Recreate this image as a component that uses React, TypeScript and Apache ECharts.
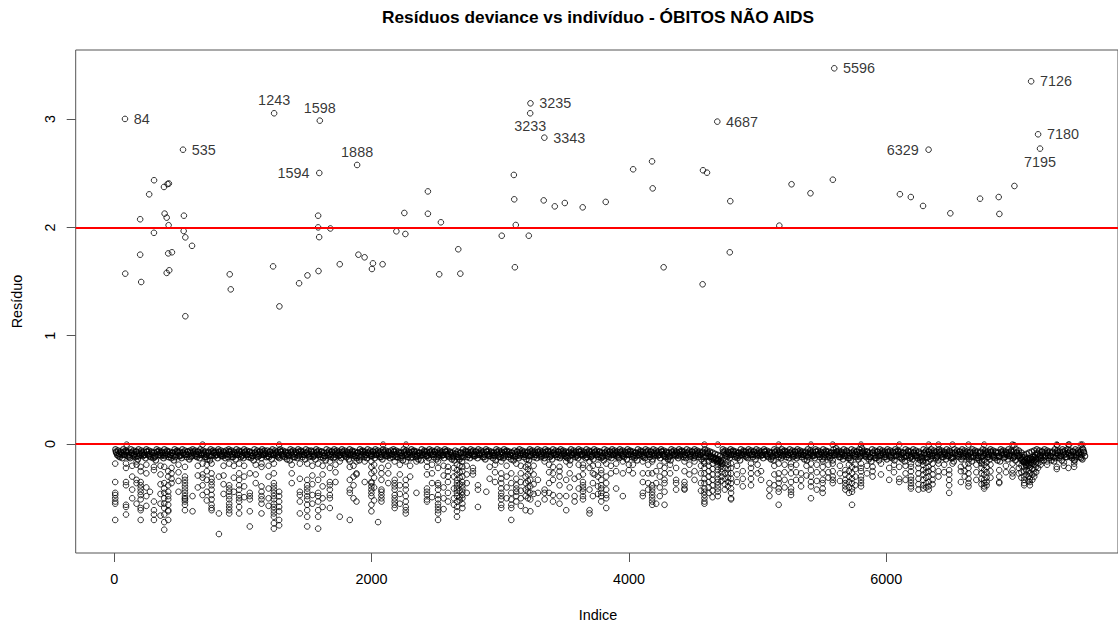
import React, { useEffect, useRef } from "react";
import * as echarts from "echarts";

const chartTitle = "Resíduos deviance vs indivíduo - ÓBITOS NÃO AIDS";
const xName = "Indice";
const yName = "Resíduo";
const xTicks = [0, 2000, 4000, 6000];
const yTicks = [0, 1, 2, 3];
const refLines = [0, 2];

// dense band of small negative residuals, sampled every bandStep indices (four interleaved rows)
const bandStart = 10;
const bandStep = 20;
const bandUpper = [
  -0.05,-0.06,-0.07,-0.05,-0.06,-0.07,-0.05,-0.06,-0.07,-0.05,
  -0.06,-0.07,-0.05,-0.06,-0.07,-0.08,-0.05,-0.06,-0.07,-0.05,
  -0.06,-0.07,-0.08,-0.05,-0.06,-0.07,-0.05,-0.06,-0.07,-0.06,
  -0.05,-0.06,-0.07,-0.05,-0.06,-0.07,-0.08,-0.05,-0.06,-0.07,
  -0.05,-0.06,-0.07,-0.06,-0.05,-0.06,-0.07,-0.05,-0.06,-0.07,
  -0.05,-0.06,-0.07,-0.08,-0.05,-0.06,-0.07,-0.05,-0.06,-0.06,
  -0.07,-0.05,-0.06,-0.07,-0.05,-0.06,-0.07,-0.08,-0.05,-0.06,
  -0.07,-0.05,-0.06,-0.07,-0.05,-0.06,-0.06,-0.07,-0.05,-0.06,
  -0.07,-0.08,-0.05,-0.06,-0.07,-0.05,-0.06,-0.07,-0.05,-0.06,
  -0.07,-0.05,-0.06,-0.07,-0.08,-0.05,-0.06,-0.07,-0.05,-0.06,
  -0.07,-0.05,-0.06,-0.07,-0.05,-0.06,-0.07,-0.06,-0.05,-0.06,
  -0.07,-0.08,-0.05,-0.06,-0.07,-0.05,-0.06,-0.07,-0.08,-0.05,
  -0.06,-0.07,-0.05,-0.06,-0.07,-0.05,-0.06,-0.07,-0.05,-0.06,
  -0.07,-0.08,-0.06,-0.07,-0.08,-0.05,-0.06,-0.07,-0.05,-0.06,
  -0.07,-0.05,-0.06,-0.07,-0.05,-0.06,-0.07,-0.08,-0.05,-0.06,
  -0.07,-0.05,-0.06,-0.07,-0.08,-0.06,-0.07,-0.05,-0.06,-0.07,
  -0.08,-0.05,-0.06,-0.07,-0.05,-0.06,-0.07,-0.05,-0.06,-0.07,
  -0.05,-0.06,-0.07,-0.05,-0.06,-0.07,-0.08,-0.05,-0.06,-0.07,
  -0.05,-0.06,-0.07,-0.05,-0.06,-0.07,-0.05,-0.06,-0.07,-0.08,
  -0.05,-0.06,-0.07,-0.05,-0.06,-0.07,-0.05,-0.06,-0.07,-0.05,
  -0.06,-0.07,-0.08,-0.05,-0.06,-0.07,-0.05,-0.06,-0.07,-0.05,
  -0.06,-0.07,-0.05,-0.06,-0.07,-0.08,-0.05,-0.06,-0.07,-0.05,
  -0.06,-0.07,-0.05,-0.06,-0.07,-0.05,-0.06,-0.07,-0.08,-0.05,
  -0.06,-0.07,-0.08,-0.09,-0.10,-0.11,-0.05,-0.06,-0.07,-0.05,
  -0.06,-0.07,-0.08,-0.05,-0.06,-0.07,-0.05,-0.06,-0.07,-0.05,
  -0.06,-0.07,-0.05,-0.06,-0.07,-0.08,-0.05,-0.06,-0.07,-0.05,
  -0.06,-0.07,-0.05,-0.06,-0.07,-0.05,-0.06,-0.07,-0.08,-0.05,
  -0.06,-0.07,-0.05,-0.06,-0.07,-0.05,-0.06,-0.07,-0.08,-0.05,
  -0.04,-0.06,-0.07,-0.05,-0.06,-0.08,-0.05,-0.06,-0.07,-0.05,
  -0.04,-0.06,-0.07,-0.08,-0.05,-0.06,-0.07,-0.05,-0.06,-0.07,
  -0.05,-0.06,-0.07,-0.05,-0.06,-0.07,-0.08,-0.05,-0.06,-0.07,
  -0.05,-0.06,-0.08,-0.09,-0.05,-0.06,-0.07,-0.05,-0.06,-0.07,
  -0.05,-0.06,-0.07,-0.05,-0.06,-0.08,-0.05,-0.06,-0.07,-0.05,
  -0.06,-0.07,-0.08,-0.05,-0.06,-0.07,-0.08,-0.05,-0.06,-0.07,
  -0.05,-0.06,-0.07,-0.08,-0.05,-0.06,-0.07,-0.05,-0.06,-0.07,
  -0.05,-0.06,-0.08,-0.10,-0.09,-0.08,-0.07,-0.06,-0.05,-0.06,
  -0.07,-0.05,-0.06,-0.07,-0.08,-0.05,-0.06,-0.07,-0.05,-0.06,
  -0.05,-0.06,-0.07,-0.05,-0.06,-0.07,-0.05,
];
const bandMiddle = [
  -0.08,-0.09,-0.10,-0.07,-0.08,-0.10,-0.08,-0.09,-0.11,-0.08,
  -0.09,-0.10,-0.07,-0.09,-0.10,-0.11,-0.07,-0.08,-0.10,-0.08,
  -0.09,-0.10,-0.11,-0.07,-0.08,-0.10,-0.08,-0.09,-0.10,-0.08,
  -0.07,-0.09,-0.10,-0.08,-0.09,-0.10,-0.11,-0.07,-0.08,-0.10,
  -0.08,-0.09,-0.10,-0.09,-0.07,-0.09,-0.10,-0.08,-0.09,-0.10,
  -0.07,-0.09,-0.10,-0.11,-0.08,-0.09,-0.10,-0.07,-0.09,-0.09,
  -0.10,-0.08,-0.09,-0.10,-0.07,-0.09,-0.10,-0.11,-0.08,-0.09,
  -0.10,-0.07,-0.09,-0.10,-0.08,-0.09,-0.09,-0.10,-0.07,-0.09,
  -0.10,-0.11,-0.08,-0.09,-0.10,-0.07,-0.09,-0.10,-0.08,-0.09,
  -0.10,-0.08,-0.09,-0.10,-0.11,-0.07,-0.09,-0.10,-0.08,-0.09,
  -0.10,-0.07,-0.09,-0.10,-0.08,-0.09,-0.10,-0.09,-0.07,-0.09,
  -0.10,-0.11,-0.08,-0.09,-0.10,-0.07,-0.09,-0.10,-0.11,-0.08,
  -0.09,-0.10,-0.07,-0.09,-0.10,-0.08,-0.09,-0.10,-0.07,-0.09,
  -0.10,-0.11,-0.09,-0.10,-0.12,-0.08,-0.09,-0.10,-0.07,-0.09,
  -0.10,-0.08,-0.09,-0.10,-0.07,-0.09,-0.10,-0.11,-0.08,-0.09,
  -0.10,-0.07,-0.09,-0.10,-0.11,-0.09,-0.10,-0.08,-0.09,-0.10,
  -0.11,-0.07,-0.09,-0.10,-0.08,-0.09,-0.10,-0.07,-0.09,-0.10,
  -0.08,-0.09,-0.10,-0.07,-0.09,-0.10,-0.11,-0.08,-0.09,-0.10,
  -0.07,-0.09,-0.10,-0.08,-0.09,-0.10,-0.07,-0.09,-0.10,-0.11,
  -0.08,-0.09,-0.10,-0.07,-0.09,-0.10,-0.08,-0.09,-0.10,-0.07,
  -0.09,-0.10,-0.11,-0.08,-0.09,-0.10,-0.07,-0.09,-0.10,-0.08,
  -0.09,-0.10,-0.07,-0.09,-0.10,-0.11,-0.08,-0.09,-0.10,-0.07,
  -0.09,-0.10,-0.08,-0.09,-0.10,-0.07,-0.09,-0.10,-0.12,-0.08,
  -0.09,-0.11,-0.12,-0.13,-0.14,-0.15,-0.08,-0.09,-0.10,-0.07,
  -0.09,-0.10,-0.11,-0.08,-0.09,-0.10,-0.07,-0.09,-0.10,-0.08,
  -0.09,-0.10,-0.07,-0.09,-0.10,-0.11,-0.08,-0.09,-0.10,-0.07,
  -0.09,-0.10,-0.08,-0.09,-0.10,-0.07,-0.09,-0.10,-0.11,-0.08,
  -0.09,-0.10,-0.07,-0.09,-0.10,-0.08,-0.09,-0.10,-0.11,-0.08,
  -0.07,-0.09,-0.10,-0.08,-0.10,-0.11,-0.08,-0.09,-0.10,-0.08,
  -0.07,-0.09,-0.10,-0.12,-0.08,-0.10,-0.11,-0.08,-0.09,-0.10,
  -0.08,-0.10,-0.11,-0.07,-0.09,-0.10,-0.12,-0.08,-0.10,-0.11,
  -0.08,-0.10,-0.12,-0.13,-0.08,-0.09,-0.10,-0.08,-0.10,-0.11,
  -0.08,-0.09,-0.10,-0.08,-0.10,-0.12,-0.08,-0.09,-0.10,-0.08,
  -0.09,-0.10,-0.12,-0.08,-0.10,-0.11,-0.12,-0.08,-0.09,-0.10,
  -0.08,-0.10,-0.11,-0.12,-0.08,-0.09,-0.10,-0.08,-0.10,-0.11,
  -0.08,-0.10,-0.12,-0.15,-0.14,-0.13,-0.12,-0.10,-0.09,-0.10,
  -0.11,-0.08,-0.10,-0.11,-0.12,-0.08,-0.10,-0.11,-0.08,-0.09,
  -0.08,-0.10,-0.11,-0.08,-0.09,-0.10,-0.08,
];
const bandLower = [
  -0.10,-0.12,-0.13,-0.10,-0.11,-0.13,-0.11,-0.12,-0.14,-0.10,
  -0.11,-0.13,-0.10,-0.12,-0.13,-0.15,-0.10,-0.11,-0.13,-0.10,
  -0.12,-0.13,-0.15,-0.10,-0.11,-0.13,-0.10,-0.12,-0.14,-0.11,
  -0.10,-0.12,-0.13,-0.10,-0.12,-0.14,-0.15,-0.10,-0.11,-0.13,
  -0.10,-0.11,-0.13,-0.12,-0.10,-0.12,-0.14,-0.10,-0.12,-0.13,
  -0.10,-0.12,-0.13,-0.15,-0.10,-0.11,-0.13,-0.10,-0.12,-0.12,
  -0.14,-0.10,-0.11,-0.13,-0.10,-0.12,-0.14,-0.15,-0.10,-0.12,
  -0.13,-0.10,-0.12,-0.14,-0.10,-0.11,-0.12,-0.14,-0.10,-0.12,
  -0.13,-0.15,-0.10,-0.12,-0.13,-0.10,-0.11,-0.13,-0.10,-0.12,
  -0.14,-0.10,-0.11,-0.13,-0.15,-0.10,-0.12,-0.13,-0.10,-0.11,
  -0.13,-0.10,-0.12,-0.14,-0.10,-0.11,-0.13,-0.12,-0.10,-0.12,
  -0.13,-0.15,-0.10,-0.12,-0.13,-0.10,-0.12,-0.14,-0.15,-0.10,
  -0.11,-0.13,-0.10,-0.12,-0.14,-0.10,-0.11,-0.13,-0.10,-0.12,
  -0.14,-0.15,-0.12,-0.14,-0.16,-0.10,-0.12,-0.13,-0.10,-0.11,
  -0.13,-0.10,-0.12,-0.14,-0.10,-0.11,-0.13,-0.15,-0.10,-0.12,
  -0.13,-0.10,-0.12,-0.14,-0.15,-0.11,-0.13,-0.10,-0.12,-0.14,
  -0.15,-0.10,-0.12,-0.13,-0.10,-0.11,-0.13,-0.10,-0.12,-0.14,
  -0.10,-0.12,-0.13,-0.10,-0.11,-0.13,-0.15,-0.10,-0.12,-0.13,
  -0.10,-0.11,-0.13,-0.10,-0.12,-0.14,-0.10,-0.12,-0.13,-0.15,
  -0.10,-0.12,-0.13,-0.10,-0.11,-0.13,-0.10,-0.12,-0.14,-0.10,
  -0.12,-0.13,-0.15,-0.10,-0.11,-0.13,-0.10,-0.12,-0.14,-0.10,
  -0.11,-0.13,-0.10,-0.12,-0.14,-0.15,-0.10,-0.11,-0.13,-0.10,
  -0.12,-0.13,-0.10,-0.11,-0.13,-0.10,-0.12,-0.14,-0.16,-0.11,
  -0.12,-0.14,-0.15,-0.16,-0.17,-0.18,-0.10,-0.12,-0.13,-0.10,
  -0.12,-0.13,-0.15,-0.10,-0.11,-0.13,-0.10,-0.12,-0.14,-0.10,
  -0.11,-0.13,-0.10,-0.12,-0.14,-0.15,-0.10,-0.12,-0.13,-0.10,
  -0.12,-0.13,-0.10,-0.11,-0.13,-0.10,-0.12,-0.14,-0.15,-0.10,
  -0.11,-0.13,-0.10,-0.12,-0.14,-0.10,-0.12,-0.13,-0.15,-0.10,
  -0.10,-0.12,-0.14,-0.11,-0.13,-0.15,-0.10,-0.12,-0.14,-0.11,
  -0.10,-0.12,-0.14,-0.16,-0.11,-0.13,-0.15,-0.10,-0.12,-0.14,
  -0.11,-0.13,-0.15,-0.10,-0.12,-0.14,-0.16,-0.11,-0.13,-0.14,
  -0.11,-0.13,-0.15,-0.16,-0.10,-0.12,-0.14,-0.11,-0.13,-0.15,
  -0.10,-0.12,-0.14,-0.11,-0.13,-0.16,-0.10,-0.12,-0.14,-0.11,
  -0.12,-0.14,-0.16,-0.11,-0.13,-0.15,-0.16,-0.10,-0.12,-0.14,
  -0.11,-0.13,-0.15,-0.16,-0.10,-0.12,-0.14,-0.11,-0.13,-0.15,
  -0.11,-0.13,-0.16,-0.19,-0.18,-0.17,-0.16,-0.14,-0.12,-0.13,
  -0.15,-0.11,-0.13,-0.15,-0.16,-0.11,-0.13,-0.15,-0.10,-0.12,
  -0.11,-0.13,-0.15,-0.10,-0.12,-0.14,-0.11,
];
const bandExtra = [
  -0.07,-0.11,-0.08,-0.10,-0.07,-0.12,-0.08,-0.10,-0.07,-0.11,
  -0.08,-0.10,-0.07,-0.11,-0.08,-0.12,-0.07,-0.10,-0.08,-0.11,
  -0.07,-0.10,-0.08,-0.12,-0.07,-0.11,-0.08,-0.10,-0.07,-0.12,
  -0.08,-0.11,-0.07,-0.10,-0.08,-0.12,-0.07,-0.11,-0.08,-0.10,
  -0.07,-0.11,-0.08,-0.10,-0.07,-0.12,-0.08,-0.10,-0.07,-0.11,
  -0.08,-0.10,-0.07,-0.11,-0.08,-0.12,-0.07,-0.10,-0.08,-0.11,
  -0.07,-0.10,-0.08,-0.12,-0.07,-0.11,-0.08,-0.10,-0.07,-0.12,
  -0.08,-0.11,-0.07,-0.10,-0.08,-0.12,-0.07,-0.11,-0.08,-0.10,
  -0.07,-0.11,-0.08,-0.10,-0.07,-0.12,-0.08,-0.10,-0.07,-0.11,
  -0.08,-0.10,-0.07,-0.11,-0.08,-0.12,-0.07,-0.10,-0.08,-0.11,
  -0.07,-0.10,-0.08,-0.12,-0.07,-0.11,-0.08,-0.10,-0.07,-0.12,
  -0.08,-0.11,-0.07,-0.10,-0.08,-0.12,-0.07,-0.11,-0.08,-0.10,
  -0.07,-0.11,-0.08,-0.10,-0.07,-0.12,-0.08,-0.10,-0.07,-0.11,
  -0.08,-0.12,-0.09,-0.12,-0.08,-0.12,-0.07,-0.10,-0.08,-0.11,
  -0.07,-0.10,-0.08,-0.12,-0.07,-0.11,-0.08,-0.10,-0.07,-0.12,
  -0.08,-0.11,-0.07,-0.10,-0.08,-0.12,-0.07,-0.11,-0.08,-0.10,
  -0.07,-0.11,-0.08,-0.10,-0.07,-0.12,-0.08,-0.10,-0.07,-0.11,
  -0.08,-0.10,-0.07,-0.11,-0.08,-0.12,-0.07,-0.10,-0.08,-0.11,
  -0.07,-0.10,-0.08,-0.12,-0.07,-0.11,-0.08,-0.10,-0.07,-0.12,
  -0.08,-0.11,-0.07,-0.10,-0.08,-0.12,-0.07,-0.11,-0.08,-0.10,
  -0.07,-0.11,-0.08,-0.10,-0.07,-0.12,-0.08,-0.10,-0.07,-0.11,
  -0.08,-0.10,-0.07,-0.11,-0.08,-0.12,-0.07,-0.10,-0.08,-0.11,
  -0.07,-0.10,-0.08,-0.12,-0.07,-0.11,-0.08,-0.10,-0.07,-0.12,
  -0.08,-0.12,-0.13,-0.14,-0.15,-0.16,-0.07,-0.11,-0.08,-0.10,
  -0.07,-0.11,-0.08,-0.10,-0.07,-0.12,-0.08,-0.10,-0.07,-0.11,
  -0.08,-0.10,-0.07,-0.11,-0.08,-0.12,-0.07,-0.10,-0.08,-0.11,
  -0.07,-0.10,-0.08,-0.12,-0.07,-0.11,-0.08,-0.10,-0.07,-0.12,
  -0.08,-0.11,-0.07,-0.10,-0.08,-0.12,-0.07,-0.11,-0.08,-0.10,
  -0.07,-0.12,-0.08,-0.11,-0.07,-0.13,-0.08,-0.11,-0.07,-0.12,
  -0.08,-0.11,-0.07,-0.12,-0.08,-0.13,-0.07,-0.11,-0.08,-0.12,
  -0.07,-0.12,-0.08,-0.11,-0.07,-0.13,-0.08,-0.11,-0.07,-0.12,
  -0.08,-0.11,-0.07,-0.12,-0.08,-0.13,-0.07,-0.11,-0.08,-0.12,
  -0.07,-0.12,-0.08,-0.11,-0.07,-0.13,-0.08,-0.11,-0.07,-0.12,
  -0.08,-0.11,-0.07,-0.12,-0.08,-0.13,-0.07,-0.11,-0.08,-0.12,
  -0.07,-0.12,-0.08,-0.11,-0.07,-0.13,-0.08,-0.11,-0.07,-0.12,
  -0.08,-0.11,-0.14,-0.17,-0.16,-0.15,-0.14,-0.12,-0.08,-0.11,
  -0.07,-0.12,-0.08,-0.11,-0.07,-0.13,-0.08,-0.11,-0.07,-0.12,
  -0.08,-0.11,-0.07,-0.12,-0.08,-0.13,-0.07,
];

// columns of more negative residuals: [index, residual, residual, ...]
const lowerColumns = [
  [8, -0.18,-0.35,-0.45,-0.47,-0.50,-0.53,-0.55,-0.70],
  [92, -0.18,-0.22,-0.35,-0.38,-0.56,-0.58,-0.65],
  [97, -0.005],
  [140, -0.20,-0.30,-0.42,-0.50],
  [174, -0.16,-0.19,-0.33,-0.36,-0.55],
  [206, -0.21,-0.25,-0.35,-0.38,-0.41,-0.44,-0.47,-0.51,-0.59,-0.61,-0.70],
  [250, -0.19,-0.27,-0.40,-0.48,-0.57],
  [278, -0.44],
  [309, -0.21,-0.24,-0.53,-0.61,-0.65,-0.70],
  [360, -0.20,-0.28,-0.37,-0.46,-0.55,-0.66],
  [389, -0.21,-0.36,-0.41,-0.45,-0.50,-0.55,-0.59,-0.65,-0.72,-0.79],
  [420, -0.25,-0.30,-0.38,-0.44,-0.48,-0.51,-0.56,-0.61,-0.62,-0.70],
  [446, -0.22,-0.27,-0.32,-0.36],
  [500, -0.19,-0.26,-0.34,-0.44],
  [550, -0.21,-0.30,-0.33,-0.36,-0.39,-0.42,-0.45,-0.48,-0.50,-0.51,-0.53,-0.56,-0.61],
  [609, -0.48,-0.62],
  [650, -0.20,-0.29,-0.40],
  [687, -0.005,-0.18,-0.28,-0.31,-0.38,-0.47],
  [720, -0.19,-0.25,-0.33,-0.44,-0.52],
  [757, -0.18,-0.27,-0.32,-0.35,-0.38,-0.42,-0.47,-0.51,-0.56,-0.59,-0.61],
  [814, -0.30,-0.64,-0.83],
  [850, -0.20,-0.29,-0.37,-0.46],
  [894, -0.18,-0.38,-0.41,-0.44,-0.48,-0.51,-0.55,-0.58,-0.61,-0.64],
  [930, -0.20,-0.31,-0.44],
  [971, -0.18,-0.27,-0.33,-0.38,-0.42,-0.47,-0.50,-0.53,-0.58,-0.64],
  [1010, -0.20,-0.30,-0.39,-0.49],
  [1054, -0.27,-0.45,-0.48,-0.51,-0.62,-0.76],
  [1100, -0.19,-0.28,-0.36],
  [1145, -0.18,-0.21,-0.39,-0.44,-0.48,-0.51,-0.55,-0.64],
  [1200, -0.20,-0.30,-0.41,-0.50,-0.57],
  [1241, -0.18,-0.27,-0.36,-0.39,-0.42,-0.45,-0.48,-0.51,-0.55,-0.58,-0.61,-0.64,-0.67,-0.73,-0.78],
  [1282, -0.005,-0.44,-0.48,-0.53,-0.58,-0.62,-0.70,-0.75],
  [1380, -0.19,-0.27,-0.36],
  [1443, -0.18,-0.32,-0.44,-0.47,-0.53,-0.64],
  [1500, -0.18,-0.33,-0.38,-0.41,-0.44,-0.48,-0.51,-0.56,-0.61,-0.67,-0.76],
  [1540, -0.20,-0.29,-0.37,-0.47,-0.55],
  [1585, -0.18,-0.33,-0.45,-0.48,-0.53,-0.61,-0.67,-0.78],
  [1620, -0.20,-0.28,-0.39,-0.50,-0.58],
  [1676, -0.16,-0.22,-0.35,-0.38,-0.42,-0.47,-0.50,-0.59],
  [1720, -0.19,-0.26,-0.35],
  [1753, -0.16,-0.67],
  [1831, -0.16,-0.21,-0.33,-0.42,-0.45,-0.70],
  [1860, -0.20,-0.30,-0.38,-0.50],
  [1883, -0.16,-0.27,-0.28,-0.53],
  [1947, -0.16,-0.35],
  [1999, -0.16,-0.21,-0.27,-0.35,-0.36,-0.39,-0.42,-0.45,-0.48,-0.56,-0.62],
  [2020, -0.19,-0.25,-0.31,-0.40,-0.52],
  [2051, -0.72],
  [2077, -0.22,-0.27,-0.33,-0.42,-0.44,-0.47,-0.50,-0.53],
  [2090, -0.005],
  [2130, -0.20,-0.27,-0.36],
  [2180, -0.16,-0.33,-0.36,-0.39,-0.42,-0.47,-0.50,-0.53,-0.56,-0.59],
  [2220, -0.19,-0.28,-0.38,-0.46,-0.55],
  [2266, -0.16,-0.33,-0.38,-0.42,-0.48,-0.53,-0.58,-0.61,-0.64],
  [2268, -0.005],
  [2300, -0.20,-0.30],
  [2349, -0.16,-0.45],
  [2431, -0.16,-0.21,-0.28,-0.41,-0.44,-0.47,-0.51,-0.53],
  [2470, -0.19,-0.27,-0.36,-0.49],
  [2517, -0.16,-0.22,-0.36,-0.38,-0.42,-0.47,-0.51,-0.55,-0.58,-0.61,-0.64,-0.70],
  [2560, -0.20,-0.29,-0.40,-0.50,-0.60],
  [2594, -0.21,-0.25,-0.30,-0.35,-0.45,-0.53],
  [2640, -0.22,-0.30,-0.41,-0.50,-0.56],
  [2664, -0.19,-0.24,-0.28,-0.33,-0.36,-0.39,-0.42,-0.45,-0.48,-0.53,-0.58,-0.62,-0.67],
  [2685, -0.20,-0.26,-0.31,-0.37,-0.43,-0.49,-0.52],
  [2706, -0.21,-0.25,-0.30,-0.35,-0.38,-0.41,-0.44,-0.47,-0.50,-0.55,-0.59],
  [2740, -0.20,-0.28,-0.36,-0.45],
  [2788, -0.22,-0.25,-0.28],
  [2827, -0.38,-0.42,-0.58],
  [2892, -0.44],
  [2918, -0.21,-0.32],
  [2960, -0.19,-0.26,-0.35],
  [3008, -0.16,-0.27,-0.32,-0.36,-0.41,-0.45,-0.48,-0.51,-0.56,-0.59],
  [3050, -0.20,-0.30,-0.40,-0.50],
  [3086, -0.27,-0.36,-0.45,-0.51,-0.56,-0.59,-0.70],
  [3125, -0.18,-0.32,-0.38,-0.41,-0.44,-0.48,-0.53],
  [3160, -0.20,-0.27,-0.35,-0.43,-0.50,-0.57],
  [3197, -0.21,-0.30,-0.36,-0.42,-0.48,-0.61],
  [3215, -0.19,-0.23,-0.28,-0.34,-0.40,-0.44,-0.50],
  [3234, -0.25,-0.33,-0.39,-0.45,-0.51,-0.62],
  [3260, -0.20,-0.28,-0.37,-0.46],
  [3293, -0.33,-0.45,-0.55],
  [3345, -0.16,-0.42,-0.45,-0.51],
  [3380, -0.19,-0.26,-0.36,-0.45],
  [3410, -0.21,-0.27,-0.33,-0.47,-0.53],
  [3461, -0.21,-0.25,-0.30,-0.38,-0.48,-0.55],
  [3513, -0.16,-0.33,-0.48,-0.61],
  [3540, -0.19,-0.27,-0.40],
  [3578, -0.32,-0.48,-0.53],
  [3610, -0.19,-0.30,-0.41],
  [3643, -0.19,-0.22,-0.28,-0.35,-0.38,-0.41,-0.44,-0.48,-0.51],
  [3694, -0.16,-0.22,-0.42,-0.61,-0.64],
  [3720, -0.20,-0.27,-0.36,-0.48],
  [3733, -0.28],
  [3760, -0.19,-0.30,-0.39,-0.46],
  [3785, -0.24,-0.27,-0.33,-0.38,-0.41,-0.45,-0.48,-0.53],
  [3824, -0.18,-0.30,-0.36,-0.42,-0.47,-0.50,-0.59],
  [3860, -0.20,-0.27],
  [3901, -0.18,-0.25,-0.41],
  [3953, -0.16,-0.27,-0.48],
  [4000, -0.19,-0.24],
  [4031, -0.19,-0.27],
  [4108, -0.16,-0.27,-0.35,-0.45,-0.48],
  [4150, -0.19,-0.27,-0.36,-0.42],
  [4181, -0.16,-0.27,-0.38,-0.41,-0.44,-0.47,-0.50,-0.53,-0.56],
  [4212, -0.25,-0.36,-0.55],
  [4240, -0.20,-0.30,-0.40,-0.48],
  [4277, -0.16,-0.22,-0.27,-0.33,-0.36,-0.44,-0.56],
  [4320, -0.19,-0.27],
  [4367, -0.22,-0.33,-0.36,-0.42],
  [4432, -0.16,-0.25,-0.35,-0.38,-0.41,-0.42],
  [4470, -0.19,-0.28],
  [4510, -0.16,-0.25,-0.33],
  [4560, -0.20,-0.27,-0.36,-0.43],
  [4587, -0.005,-0.18,-0.22,-0.27,-0.32,-0.36,-0.41,-0.44,-0.47,-0.50,-0.53,-0.55],
  [4620, -0.16,-0.20,-0.25,-0.30,-0.35,-0.40,-0.45],
  [4650, -0.18,-0.23,-0.28,-0.33,-0.38,-0.43,-0.49],
  [4691, -0.005,-0.15,-0.18,-0.21,-0.24,-0.28,-0.32,-0.35,-0.38,-0.41,-0.44,-0.48],
  [4720, -0.17,-0.20,-0.23,-0.26,-0.30,-0.34],
  [4745, -0.18,-0.22,-0.27,-0.32,-0.37,-0.42],
  [4770, -0.16,-0.19,-0.23,-0.27,-0.31,-0.35,-0.39],
  [4794, -0.18,-0.22,-0.27,-0.32,-0.36,-0.41,-0.45,-0.50,-0.51],
  [4840, -0.20,-0.28,-0.35],
  [4885, -0.25,-0.32,-0.39],
  [4949, -0.18,-0.22,-0.27,-0.32,-0.38],
  [5000, -0.19,-0.27],
  [5027, -0.25,-0.33],
  [5092, -0.36,-0.42,-0.48],
  [5130, -0.20,-0.28,-0.38],
  [5164, -0.005,-0.18,-0.27,-0.32,-0.36,-0.41,-0.44,-0.56],
  [5210, -0.19,-0.26,-0.33,-0.40],
  [5260, -0.18,-0.21,-0.27,-0.35,-0.41,-0.44,-0.47],
  [5300, -0.19,-0.26,-0.33],
  [5338, -0.27,-0.33,-0.39],
  [5380, -0.20,-0.29],
  [5415, -0.005,-0.18,-0.24,-0.30,-0.35,-0.39,-0.50],
  [5460, -0.19,-0.26,-0.34,-0.42],
  [5506, -0.16,-0.21,-0.27,-0.33,-0.36,-0.41,-0.45],
  [5550, -0.19,-0.26,-0.31],
  [5584, -0.005,-0.18,-0.25,-0.30,-0.33,-0.36],
  [5640, -0.20,-0.27,-0.34],
  [5682, -0.24,-0.28,-0.33,-0.36,-0.39,-0.42],
  [5710, -0.19,-0.25,-0.30,-0.35,-0.40,-0.45],
  [5734, -0.21,-0.27,-0.32,-0.36,-0.41,-0.44,-0.56],
  [5760, -0.19,-0.23,-0.30,-0.38],
  [5804, -0.005,-0.18,-0.22,-0.25,-0.30,-0.33,-0.36,-0.39],
  [5850, -0.20,-0.27],
  [5894, -0.21,-0.25,-0.30],
  [5959, -0.18,-0.28],
  [6023, -0.22,-0.33],
  [6060, -0.19,-0.26],
  [6101, -0.005,-0.21,-0.32,-0.35],
  [6150, -0.20,-0.27,-0.33],
  [6192, -0.18,-0.21,-0.25,-0.30,-0.33,-0.36,-0.39,-0.41],
  [6250, -0.18,-0.22,-0.27,-0.32,-0.37,-0.42],
  [6287, -0.15,-0.19,-0.24,-0.28,-0.33,-0.38,-0.41],
  [6310, -0.17,-0.22,-0.26,-0.31,-0.36,-0.40],
  [6330, -0.005,-0.16,-0.21,-0.25,-0.30,-0.35,-0.39,-0.42],
  [6360, -0.18,-0.23,-0.28,-0.33,-0.37],
  [6406, -0.005,-0.18,-0.25,-0.30],
  [6450, -0.19,-0.26],
  [6489, -0.24,-0.28,-0.33,-0.38,-0.45],
  [6515, -0.005,-0.18],
  [6580, -0.21,-0.25,-0.35],
  [6610, -0.19,-0.25,-0.30],
  [6639, -0.005,-0.18,-0.22,-0.27,-0.32,-0.36,-0.39],
  [6700, -0.19,-0.26,-0.33],
  [6740, -0.18,-0.22,-0.27,-0.32,-0.37],
  [6761, -0.005,-0.15,-0.19,-0.24,-0.28,-0.33,-0.36,-0.39,-0.41],
  [6780, -0.17,-0.21,-0.26,-0.31,-0.35,-0.38],
  [6810, -0.19,-0.25,-0.31],
  [6878, -0.24,-0.30,-0.35,-0.36],
  [6930, -0.20,-0.26],
  [6981, -0.005,-0.18,-0.24,-0.27,-0.30],
  [6994, -0.01],
  [7030, -0.18,-0.22,-0.27],
  [7050, -0.15,-0.20,-0.26,-0.31],
  [7072, -0.12,-0.16,-0.21,-0.25,-0.30,-0.33,-0.36,-0.38],
  [7090, -0.13,-0.17,-0.20,-0.24,-0.28],
  [7105, -0.15,-0.20,-0.25,-0.30,-0.34],
  [7116, -0.14,-0.19,-0.22,-0.27,-0.32,-0.35,-0.38],
  [7135, -0.14,-0.18,-0.23,-0.28,-0.33],
  [7150, -0.12,-0.15,-0.19,-0.23,-0.27,-0.30],
  [7165, -0.13,-0.17,-0.21,-0.26],
  [7180, -0.14,-0.18,-0.22],
  [7200, -0.13,-0.16,-0.19],
  [7250, -0.16,-0.19],
  [7325, -0.005,-0.21,-0.23],
  [7329, -0.01],
  [7380, -0.17,-0.20],
  [7416, -0.005,-0.22],
  [7422, -0.005],
  [7460, -0.15,-0.18,-0.21],
  [7512, -0.005],
  [7524, -0.005,-0.04],
];

// large positive residuals without a label: [index, residual]
const upperPoints = [
  [86,1.573],[202,2.075],[202,1.748],[210,1.496],[272,2.305],[309,1.95],[310,2.435],
  [387,2.373],[392,2.127],[408,2.09],[408,1.58],[415,2.40],[420,1.76],[423,2.02],
  [425,2.405],[428,1.604],[449,1.77],[540,1.967],[542,2.108],[553,1.908],[553,1.18],
  [605,1.83],[898,1.567],[906,1.428],[1235,1.64],[1284,1.271],[1437,1.484],[1502,1.557],
  [1585,2.108],[1585,2.00],[1588,1.597],[1593,1.91],[1680,1.99],[1753,1.66],[1898,1.748],
  [1946,1.724],[2003,1.616],[2011,1.668],[2086,1.66],[2193,1.964],[2255,2.133],[2263,1.939],
  [2438,2.332],[2438,2.126],[2526,1.567],[2539,2.047],[2674,1.798],[2690,1.573],[3012,1.923],
  [3106,2.484],[3109,2.259],[3114,1.632],[3121,2.022],[3222,1.923],[3338,2.249],[3424,2.194],
  [3502,2.225],[3641,2.185],[3820,2.235],[4033,2.536],[4180,2.609],[4185,2.36],[4270,1.632],
  [4573,1.475],[4576,2.527],[4607,2.505],[4784,1.77],[4788,2.242],[5169,2.016],[5264,2.398],
  [5411,2.315],[5585,2.44],[6106,2.306],[6191,2.28],[6286,2.198],[6498,2.13],[6729,2.265],
  [6874,2.28],[6879,2.124],[6996,2.382],
];

// identified observations
const labeledIdx = [84, 535, 1243, 1598, 1594, 1888, 3235, 3233, 3343, 4687, 5596, 6329, 7126, 7180, 7195];
const labeledRes = [3.001, 2.717, 3.053, 2.985, 2.502, 2.576, 3.145, 3.053, 2.828, 2.976, 3.468, 2.717, 3.348, 2.859, 2.727];

const labelSide: Record<string, string> = {
  "84": "right", "535": "right", "1243": "top", "1598": "top", "1594": "left",
  "1888": "top", "3235": "right", "3233": "bottom", "3343": "right", "4687": "right",
  "5596": "right", "6329": "left", "7126": "right", "7180": "right", "7195": "bottom",
};
const sideDistance: Record<string, number> = { right: 5.5, left: 6.5, top: 2.5, bottom: 2.8 };

const FONT = '"Liberation Sans", Arial, sans-serif';

function buildOption() {
  const bandData: number[][] = [];
  bandUpper.forEach((v, i) => bandData.push([bandStart + i * bandStep, v]));
  bandMiddle.forEach((v, i) => bandData.push([bandStart + 7 + i * bandStep, v]));
  bandLower.forEach((v, i) => bandData.push([bandStart + 14 + i * bandStep, v]));
  bandExtra.forEach((v, i) => bandData.push([bandStart + 4 + i * bandStep, v]));

  const columnData: number[][] = [];
  lowerColumns.forEach((col) => {
    for (let j = 1; j < col.length; j++) columnData.push([col[0], col[j]]);
  });

  const labeledData = labeledIdx.map((x, i) => {
    const name = String(x);
    const pos = labelSide[name];
    return {
      name,
      value: [x, labeledRes[i]],
      label: { position: pos, distance: sideDistance[pos] },
    };
  });

  const itemStyle = { color: "rgba(0,0,0,0)", borderColor: "#000", borderWidth: 1 };
  const base = {
    type: "scatter",
    symbol: "circle",
    symbolSize: 5.6,
    itemStyle,
    large: false,
    silent: true,
  };

  return {
    animation: false,
    backgroundColor: "#fff",
    grid: {
      left: 75.7,
      top: 50,
      right: -1,
      bottom: 73,
      show: true,
      borderColor: "#555",
      borderWidth: 1,
      backgroundColor: "transparent",
    },
    xAxis: {
      type: "value",
      min: -299,
      max: 7801,
      axisLine: { show: false, onZero: false },
      splitLine: { show: false },
      axisTick: { show: true, length: 9, customValues: xTicks, lineStyle: { color: "#555" } },
      axisLabel: {
        customValues: xTicks,
        margin: 19,
        fontSize: 14.4,
        color: "#000",
        fontFamily: FONT,
        formatter: (v: number) => String(v),
      },
    },
    yAxis: {
      type: "value",
      min: -1.005,
      max: 3.637,
      axisLine: { show: false, onZero: false },
      splitLine: { show: false },
      axisTick: { show: true, length: 9, customValues: yTicks, lineStyle: { color: "#555" } },
      axisLabel: {
        customValues: yTicks,
        margin: 19,
        rotate: 90,
        fontSize: 14.4,
        color: "#000",
        fontFamily: FONT,
        formatter: (v: number) => String(v),
      },
    },
    graphic: [
      {
        type: "text",
        x: 598,
        y: 17,
        style: { text: chartTitle, fontSize: 17.3, fontWeight: "bold", fontFamily: FONT, fill: "#000", align: "center", verticalAlign: "middle" },
      },
      {
        type: "text",
        x: 598,
        y: 615,
        style: { text: xName, fontSize: 14.4, fontFamily: FONT, fill: "#000", align: "center", verticalAlign: "middle" },
      },
      {
        type: "text",
        x: 17,
        y: 301.5,
        rotation: Math.PI / 2,
        style: { text: yName, fontSize: 14.4, fontFamily: FONT, fill: "#000", align: "center", verticalAlign: "middle" },
      },
    ],
    series: [
      { ...base, name: "band", data: bandData, z: 2, itemStyle: { ...itemStyle, borderWidth: 1.15 } },
      { ...base, name: "lower", data: columnData, z: 2 },
      { ...base, name: "upper", data: upperPoints, z: 2 },
      {
        ...base,
        name: "labeled",
        data: labeledData,
        z: 3,
        label: {
          show: true,
          formatter: (p: any) => p.name,
          fontSize: 14.4,
          fontFamily: FONT,
          color: "#000",
        },
      },
      {
        type: "scatter",
        name: "ref",
        data: [],
        z: 4,
        silent: true,
        markLine: {
          silent: true,
          symbol: ["none", "none"],
          label: { show: false },
          lineStyle: { color: "#ff0000", width: 2, type: "solid" },
          data: refLines.map((v) => ({ yAxis: v })),
        },
      },
    ],
  };
}

export default function App() {
  const ref = useRef<HTMLDivElement>(null);
  useEffect(() => {
    if (!ref.current) return;
    const chart = echarts.init(ref.current, undefined, { renderer: "svg" });
    chart.setOption(buildOption() as any);
    return () => chart.dispose();
  }, []);
  return (
    <div
      ref={ref}
      style={{ position: "absolute", left: 0, top: 0, width: 1118, height: 626, background: "#fff" }}
    />
  );
}
